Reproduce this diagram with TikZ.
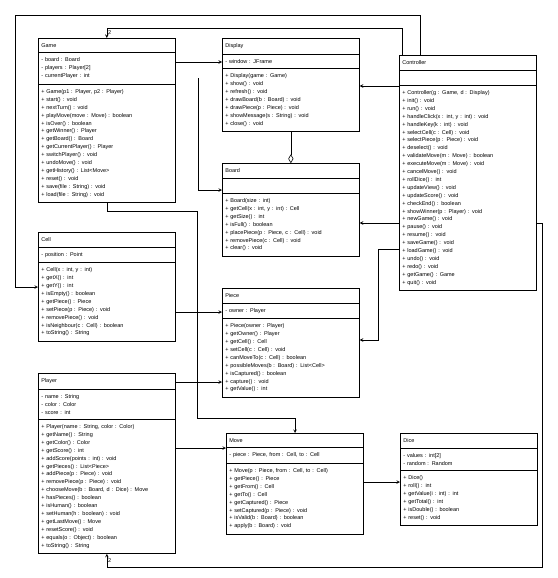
\documentclass[tikz,border=0pt]{standalone}
\usepackage{fontspec}
\setmainfont{Liberation Sans}
\usetikzlibrary{shapes.multipart, arrows}
\newcommand{\umlfont}{\fontsize{5.5}{7.9}\selectfont}
\tikzstyle{umlclass} = [rectangle split, rectangle split parts=3, anchor=north west, text width=131pt, inner xsep=3pt, inner ysep=4.9pt, align=left, font=\umlfont, draw=black, line width=0.7pt, fill=white]
\tikzstyle{arrow} = [line width=0.6pt, ->, >=stealth]
\tikzstyle{aggregation} = [line width=0.6pt, -open diamond]
\tikzstyle{mult} = [font=\umlfont, inner sep=1pt]

\begin{document}
\begin{tikzpicture}[x=1pt, y=-1pt]
\useasboundingbox (0,0) rectangle (557,578);

\node (game) [umlclass] at (38,38) {Game
\nodepart{two} - board : Board\\ - players : Player[2]\\ - currentPlayer : int
\nodepart{three} + Game(p1 : Player, p2 : Player)\\ + start() : void\\ + nextTurn() : void\\ + playMove(move : Move) : boolean\\ + isOver() : boolean\\ + getWinner() : Player\\ + getBoard() : Board\\ + getCurrentPlayer() : Player\\ + switchPlayer() : void\\ + undoMove() : void\\ + getHistory() : List<Move>\\ + reset() : void\\ + save(file : String) : void\\ + load(file : String) : void};

\node (display) [umlclass] at (222,38) {Display
\nodepart{two} - window : JFrame
\nodepart{three} + Display(game : Game)\\ + show() : void\\ + refresh() : void\\ + drawBoard(b : Board) : void\\ + drawPiece(p : Piece) : void\\ + showMessage(s : String) : void\\ + close() : void};

\node (board) [umlclass] at (222,163) {Board
\nodepart{two} \vphantom{Xy}
\nodepart{three} + Board(size : int)\\ + getCell(x : int, y : int) : Cell\\ + getSize() : int\\ + isFull() : boolean\\ + placePiece(p : Piece, c : Cell) : void\\ + removePiece(c : Cell) : void\\ + clear() : void};

\node (controller) [umlclass] at (399,55) {Controller
\nodepart{two} \vphantom{Xy}
\nodepart{three} + Controller(g : Game, d : Display)\\ + init() : void\\ + run() : void\\ + handleClick(x : int, y : int) : void\\ + handleKey(k : int) : void\\ + selectCell(c : Cell) : void\\ + selectPiece(p : Piece) : void\\ + deselect() : void\\ + validateMove(m : Move) : boolean\\ + executeMove(m : Move) : void\\ + cancelMove() : void\\ + rollDice() : int\\ + updateView() : void\\ + updateScore() : void\\ + checkEnd() : boolean\\ + showWinner(p : Player) : void\\ + newGame() : void\\ + pause() : void\\ + resume() : void\\ + saveGame() : void\\ + loadGame() : void\\ + undo() : void\\ + redo() : void\\ + getGame() : Game\\ + quit() : void};

\node (cell) [umlclass] at (38,232) {Cell
\nodepart{two} - position : Point
\nodepart{three} + Cell(x : int, y : int)\\ + getX() : int\\ + getY() : int\\ + isEmpty() : boolean\\ + getPiece() : Piece\\ + setPiece(p : Piece) : void\\ + removePiece() : void\\ + isNeighbour(c : Cell) : boolean\\ + toString() : String};

\node (piece) [umlclass] at (222,288) {Piece
\nodepart{two} - owner : Player
\nodepart{three} + Piece(owner : Player)\\ + getOwner() : Player\\ + getCell() : Cell\\ + setCell(c : Cell) : void\\ + canMoveTo(c : Cell) : boolean\\ + possibleMoves(b : Board) : List<Cell>\\ + isCaptured() : boolean\\ + capture() : void\\ + getValue() : int};

\node (player) [umlclass] at (38,373) {Player
\nodepart{two} - name : String\\ - color : Color\\ - score : int
\nodepart{three} + Player(name : String, color : Color)\\ + getName() : String\\ + getColor() : Color\\ + getScore() : int\\ + addScore(points : int) : void\\ + getPieces() : List<Piece>\\ + addPiece(p : Piece) : void\\ + removePiece(p : Piece) : void\\ + chooseMove(b : Board, d : Dice) : Move\\ + hasPieces() : boolean\\ + isHuman() : boolean\\ + setHuman(h : boolean) : void\\ + getLastMove() : Move\\ + resetScore() : void\\ + equals(o : Object) : boolean\\ + toString() : String};

\node (move) [umlclass] at (226,433) {Move
\nodepart{two} - piece : Piece, from : Cell, to : Cell
\nodepart{three} + Move(p : Piece, from : Cell, to : Cell)\\ + getPiece() : Piece\\ + getFrom() : Cell\\ + getTo() : Cell\\ + getCaptured() : Piece\\ + setCaptured(p : Piece) : void\\ + isValid(b : Board) : boolean\\ + apply(b : Board) : void};

\node (dice) [umlclass] at (400,433) {Dice
\nodepart{two} - values : int[2]\\ - random : Random
\nodepart{three} + Dice()\\ + roll() : int\\ + getValue(i : int) : int\\ + getTotal() : int\\ + isDouble() : boolean\\ + reset() : void};

\coordinate (gamelink) at (198,78);

\draw [arrow] ([yshift=-24pt]game.north east) -- ([yshift=-24pt]display.north west);
\draw [arrow] ([xshift=3pt]controller.north west) |- ([yshift=10pt]game.north) -- node[mult, right]{2} (game.north);
\draw [arrow] ([xshift=21pt]controller.north west) |- (15,15) |- ([yshift=-55pt]cell.north west);
\draw [arrow] (gamelink) |- ([yshift=-27pt]board.north west);
\draw [aggregation] (display.south) -- (board.north);
\draw [arrow] ([yshift=-31pt]controller.north west) -- ([yshift=-48pt]display.north east);
\draw [arrow] ([yshift=-168pt]controller.north west) -- ([yshift=-60pt]board.north east);
\draw [arrow] ([yshift=-194pt]controller.north west) -- ++(-21,0) |- ([yshift=-52pt]piece.north east);
\draw [arrow] ([yshift=-168pt]controller.north east) -- ++(6,0) |- ([yshift=-14pt]player.south) -- node[mult, right]{2} (player.south);
\draw [arrow] ([yshift=-80pt]cell.north east) -- ([yshift=-24pt]piece.north west);
\draw [arrow] ([yshift=-9pt]player.north east) -- ([yshift=-94pt]piece.north west);
\draw [arrow] ([yshift=-75pt]player.north east) -- ([yshift=-15pt]move.north west);
\draw [arrow] (game.south) -- ++(0,8) -| (197,418) -| ([xshift=69pt]move.north west);
\draw [arrow] ([yshift=-49pt]move.north east) -- ([yshift=-49pt]dice.north west);

\end{tikzpicture}
\end{document}
